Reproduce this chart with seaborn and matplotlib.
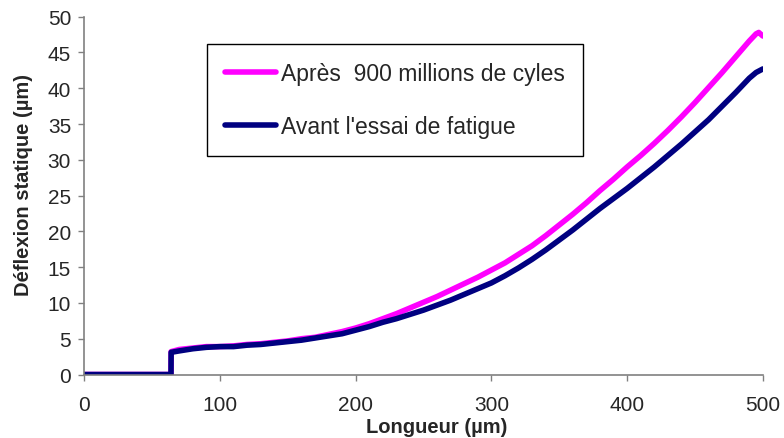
import numpy as np
import pandas as pd
import matplotlib
matplotlib.use("Agg")
import matplotlib.pyplot as plt
import seaborn as sns

# Static deflection profiles along the beam (µm)
x_apres = [0, 63.9, 64, 70, 80, 90, 100, 110, 120, 130, 140, 150, 160, 170, 180, 190,
           200, 210, 220, 230, 240, 250, 260, 270, 280, 290, 300, 310, 320, 330, 340,
           350, 360, 370, 380, 390, 400, 410, 420, 430, 440, 450, 460, 470, 480, 490,
           495, 497, 500]
y_apres = [0, 0, 3.2, 3.5, 3.7, 3.9, 3.9, 4.0, 4.2, 4.3, 4.5, 4.7, 5.0, 5.2, 5.6, 6.0,
           6.5, 7.1, 7.8, 8.5, 9.3, 10.1, 10.9, 11.8, 12.7, 13.6, 14.6, 15.6, 16.8, 18.0,
           19.4, 20.9, 22.4, 24.0, 25.7, 27.3, 29.0, 30.6, 32.3, 34.1, 36.0, 38.0, 40.1,
           42.2, 44.4, 46.6, 47.6, 47.8, 47.3]

x_avant = [0, 63.9, 64, 70, 80, 90, 100, 110, 120, 130, 140, 150, 160, 170, 180, 190,
           200, 210, 220, 230, 240, 250, 260, 270, 280, 290, 300, 310, 320, 330, 340,
           350, 360, 370, 380, 390, 400, 410, 420, 430, 440, 450, 460, 470, 480, 490,
           495, 500]
y_avant = [0, 0, 3.1, 3.3, 3.6, 3.8, 3.9, 3.9, 4.1, 4.2, 4.4, 4.6, 4.8, 5.1, 5.4, 5.7,
           6.2, 6.7, 7.3, 7.8, 8.4, 9.0, 9.7, 10.4, 11.2, 12.0, 12.8, 13.8, 14.9, 16.1,
           17.4, 18.8, 20.2, 21.7, 23.2, 24.6, 26.0, 27.5, 29.0, 30.6, 32.2, 33.9, 35.6,
           37.5, 39.4, 41.4, 42.2, 42.7]

label_apres = "Après  900 millions de cyles"
label_avant = "Avant l'essai de fatigue"
x_ticks = [0, 100, 200, 300, 400, 500]
y_ticks = [0, 5, 10, 15, 20, 25, 30, 35, 40, 45, 50]

df = pd.concat([
    pd.DataFrame({"x": x_apres, "y": y_apres, "serie": label_apres}),
    pd.DataFrame({"x": x_avant, "y": y_avant, "serie": label_avant}),
], ignore_index=True)

sns.set_style("white")
plt.rcParams["font.family"] = ["Liberation Sans", "DejaVu Sans"]

fig = plt.figure(figsize=(7.84, 4.39), dpi=100)
ax = fig.add_axes([0.1075, 0.1446, 0.8655, 0.8151])

palette = {label_apres: "#FF00FF", label_avant: "#000080"}
sns.lineplot(data=df, x="x", y="y", hue="serie", palette=palette,
             estimator=None, sort=False, linewidth=4, ax=ax, legend=False,
             solid_capstyle="round", solid_joinstyle="round")

ax.set_xlim(0, 500)
ax.set_ylim(0, 50)
ax.set_xticks(x_ticks)
ax.set_yticks(y_ticks)
ax.tick_params(axis="both", labelsize=15, direction="out", length=4.5,
               width=1, color="#808080", left=True, bottom=True)
ax.tick_params(axis="x", pad=10.5)
ax.tick_params(axis="y", pad=5)

for side in ("top", "right"):
    ax.spines[side].set_visible(False)
for side in ("left", "bottom"):
    ax.spines[side].set_color("#808080")
    ax.spines[side].set_linewidth(1.2)

ax.set_xlabel("Longueur (µm)", fontsize=14.5, fontweight="bold")
ax.set_ylabel("Déflexion statique (µm)", fontsize=14.5, fontweight="bold")
ax.xaxis.set_label_coords(0.52, -0.145)
ax.xaxis.label.set_va("center")
ax.yaxis.set_label_coords(-0.09, 0.532)
ax.yaxis.label.set_va("center")

handles = [plt.Line2D([], [], color="#FF00FF", lw=4, solid_capstyle="round"),
           plt.Line2D([], [], color="#000080", lw=4, solid_capstyle="round")]
leg = ax.legend(handles, [label_apres, label_avant],
                loc="upper left", bbox_to_anchor=(0.264, 0.8975),
                bbox_transform=fig.transFigure, borderaxespad=0,
                fontsize=16.5, handlelength=2.2, handletextpad=0.22,
                borderpad=0.8, labelspacing=1.3, fancybox=False,
                framealpha=1, edgecolor="black")
leg.get_frame().set_linewidth(1.0)

fig.savefig("out.png", dpi=100)
